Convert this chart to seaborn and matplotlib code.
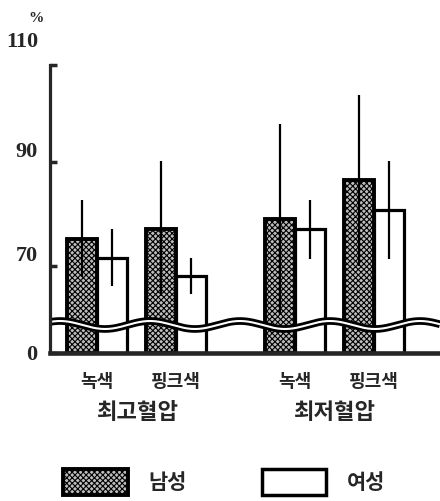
import numpy as np
import pandas as pd
import matplotlib
matplotlib.use("Agg")
import matplotlib.pyplot as plt
import matplotlib.transforms as mtrans
from matplotlib.patches import Patch
import seaborn as sns

# ---- data ----
colors = ['녹색', '핑크색', '녹색', '핑크색']
measures = ['최고혈압', '최저혈압']
sexes = ['남성', '여성']
male_mean = [75.3, 77.2, 79.0, 86.5]
male_sd = [7.4, 13.0, 18.4, 16.4]
female_mean = [71.6, 68.1, 77.1, 80.8]
female_sd = [5.5, 3.5, 5.7, 9.4]
ytick_values = [0, 70, 90]
ytick_labels = ['0', '70', '90']

# layout positions of the four colour groups
pos = [0.0, 1.0, 2.5, 3.5]

df = pd.DataFrame({
    'pos': pos * 2,
    'sex': [sexes[0]] * 4 + [sexes[1]] * 4,
    'value': male_mean + female_mean,
})

sns.set_style('white')
plt.rcParams['font.family'] = ['Noto Sans CJK KR', 'DejaVu Sans']
plt.rcParams['hatch.linewidth'] = 0.8

fig = plt.figure(figsize=(4.4, 5.01), dpi=100)
ax = fig.add_axes([50 / 440, 148 / 501, 390 / 440, 288 / 501])

# broken axis: region 0..58 compressed
B = 58.0
D0 = 53.27


def fwd(v):
    v = np.asarray(v, dtype=float)
    return np.where(v >= B, v, D0 + v * (B - D0) / B)


def inv(d):
    d = np.asarray(d, dtype=float)
    return np.where(d >= B, d, (d - D0) * B / (B - D0))


ax.set_yscale('function', functions=(fwd, inv))

sns.barplot(data=df, x='pos', y='value', hue='sex', hue_order=sexes,
            native_scale=True, width=0.76, palette=['#bdbdbd', 'white'],
            edgecolor='black', errorbar=None, legend=False, ax=ax,
            dodge=True, saturation=1)

for p in ax.containers[0]:
    p.set_hatch('xxxxxx')
    p.set_linewidth(2.8)
    p.set_zorder(2)
for p in ax.containers[1]:
    p.set_linewidth(2.3)
    p.set_zorder(2)

for cont, means, sds in zip(ax.containers, [male_mean, female_mean], [male_sd, female_sd]):
    centers = [p.get_x() + p.get_width() / 2 for p in cont]
    ax.errorbar(centers, means, yerr=sds, fmt='none', ecolor='black',
                elinewidth=1.6, capsize=0, zorder=3)

ax.set_xlim(-0.595, 4.34)
ax.set_ylim(0, 108.7)

# axis break wave (decoration, in pixel space of the axes)
xp = np.linspace(0, 390, 400)
yp = 28 + 4 * np.cos(2 * np.pi * (xp + 50 - 150) / 90)
ax.plot(xp / 390, yp / 288, transform=ax.transAxes, color='black', lw=5.5,
        zorder=5, solid_capstyle='butt', clip_on=False)
ax.plot(xp / 390, yp / 288, transform=ax.transAxes, color='white', lw=1.5,
        zorder=6, solid_capstyle='butt', clip_on=False)

for s in ['top', 'right']:
    ax.spines[s].set_visible(False)
ax.spines['left'].set_linewidth(2.3)
ax.spines['left'].set_bounds(0, 108.7)
ax.spines['bottom'].set_linewidth(3.3)
ax.spines['left'].set_zorder(7)
ax.spines['bottom'].set_zorder(7)

ax.set_yticks(ytick_values + [108.7])
ax.set_yticklabels(ytick_labels + [''], fontfamily='Liberation Serif',
                   fontweight='bold', fontsize=16)
for lab in ax.get_yticklabels()[1:3]:
    lab.set_va('bottom')
ax.tick_params(axis='y', direction='in', length=5, width=2.5, pad=9, left=True)

ax.set_xticks(pos)
ax.set_xticklabels(colors, fontsize=13, fontweight='bold')
ax.tick_params(axis='x', length=0, pad=14)
ax.set_xlabel('')
ax.set_ylabel('')

blend = mtrans.blended_transform_factory(ax.transData, ax.transAxes)
for m, xc in zip(measures, [(pos[0] + pos[1]) / 2, (pos[2] + pos[3]) / 2]):
    ax.text(xc, -0.205, m, transform=blend, ha='center', va='center',
            fontsize=16, fontweight='bold')

fig.text(22 / 440, 1 - 42 / 501, '110', ha='center', va='center',
         fontfamily='Liberation Serif', fontweight='bold', fontsize=16)
fig.text(36 / 440, 1 - 18 / 501, '%', ha='center', va='center',
         fontfamily='Liberation Serif', fontweight='bold', fontsize=11)

handles = [Patch(facecolor='#bdbdbd', edgecolor='black', hatch='xxxxxx', linewidth=2.8, label=sexes[0]),
           Patch(facecolor='white', edgecolor='black', linewidth=2.5, label=sexes[1])]
fig.legend(handles=handles, loc='center', bbox_to_anchor=(0.51, 0.038), ncol=2,
           frameon=False,
           prop={'size': 15, 'weight': 'bold', 'family': ['Noto Sans CJK KR', 'DejaVu Sans']},
           handlelength=3.1, handleheight=1.5, handletextpad=1.0, columnspacing=3.6)

fig.savefig('out.png', dpi=100)
